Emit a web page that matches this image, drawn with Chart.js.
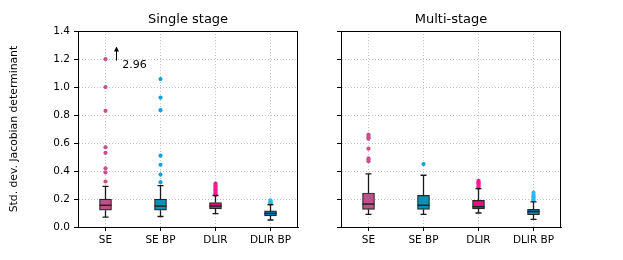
<!DOCTYPE html>
<html>
<head>
<meta charset="utf-8">
<script src="https://cdn.jsdelivr.net/npm/chart.js@4.4.0/dist/chart.umd.min.js"></script>
<style>
html, body { margin: 0; padding: 0; background: #fff; }
#wrap { position: relative; width: 623px; height: 260px; }
canvas { position: absolute; top: 0; }
</style>
</head>
<body>
<div id="wrap">
  <canvas id="single" width="310" height="260" style="left:0px"></canvas>
  <canvas id="multi" width="313" height="260" style="left:310px"></canvas>
</div>
<script>
// ---------------------------------------------------------------
// data
// ---------------------------------------------------------------
const categories = ['SE', 'SE BP', 'DLIR', 'DLIR BP'];
const yTicks = [0, 0.2, 0.4, 0.6, 0.8, 1.0, 1.2, 1.4];

const boxColors = ['#c0508a', '#0b8fbd', '#e8107f', '#0a8cc8'];
const flierColors = ['#c4508c', '#14a2d4', '#ff1a94', '#2cb8f2'];

// single stage
const singleLow  = [0.07, 0.075, 0.095, 0.05];
const singleQ1   = [0.12, 0.12, 0.13, 0.08];
const singleMed  = [0.155, 0.15, 0.15, 0.097];
const singleQ3   = [0.20, 0.20, 0.175, 0.115];
const singleHigh = [0.29, 0.295, 0.225, 0.16];
const singleFliersSE     = [0.325, 0.39, 0.42, 0.53, 0.57, 0.83, 1.0, 1.2];
const singleFliersSEBP   = [0.32, 0.375, 0.445, 0.51, 0.835, 0.925, 1.057];
const singleFliersDLIR   = [0.23, 0.24, 0.25, 0.26, 0.27, 0.28, 0.29, 0.30, 0.31];
const singleFliersDLIRBP = [0.165, 0.17, 0.175, 0.18, 0.19];
const singleClipped = 2.96;   // SE outlier above the axis

// multi-stage
const multiLow  = [0.09, 0.09, 0.10, 0.055];
const multiQ1   = [0.126, 0.126, 0.13, 0.088];
const multiMed  = [0.164, 0.155, 0.145, 0.11];
const multiQ3   = [0.243, 0.226, 0.19, 0.126];
const multiHigh = [0.38, 0.37, 0.274, 0.18];
const multiFliersSE     = [0.47, 0.48, 0.49, 0.56, 0.63, 0.64, 0.65, 0.66];
const multiFliersSEBP   = [0.45];
const multiFliersDLIR   = [0.28, 0.29, 0.30, 0.31, 0.32, 0.33];
const multiFliersDLIRBP = [0.19, 0.20, 0.21, 0.22, 0.23, 0.245];

const FONT = 'DejaVu Sans';

// whiskers, caps, medians and the frame, drawn through the chart scales
function boxExtras(low, med, high, q1, q3, clipped) {
  return {
    id: 'boxExtras',
    afterDatasetsDraw(chart) {
      const ctx = chart.ctx;
      const x = chart.scales.x, y = chart.scales.y;
      const step = x.getPixelForValue(1) - x.getPixelForValue(0);
      const half = step * 0.11, cap = step * 0.055;
      ctx.save();
      ctx.setLineDash([]);
      ctx.strokeStyle = '#1a1a1a';
      ctx.lineWidth = 1.3;
      low.forEach(function (lo, i) {
        const px = x.getPixelForValue(i);
        ctx.beginPath();
        ctx.moveTo(px, y.getPixelForValue(lo));
        ctx.lineTo(px, y.getPixelForValue(q1[i]));
        ctx.moveTo(px, y.getPixelForValue(q3[i]));
        ctx.lineTo(px, y.getPixelForValue(high[i]));
        ctx.moveTo(px - cap, y.getPixelForValue(lo));
        ctx.lineTo(px + cap, y.getPixelForValue(lo));
        ctx.moveTo(px - cap, y.getPixelForValue(high[i]));
        ctx.lineTo(px + cap, y.getPixelForValue(high[i]));
        ctx.stroke();
        ctx.beginPath();
        ctx.lineWidth = 1.5;
        ctx.strokeStyle = '#222';
        ctx.moveTo(px - half, y.getPixelForValue(med[i]));
        ctx.lineTo(px + half, y.getPixelForValue(med[i]));
        ctx.stroke();
        ctx.lineWidth = 1.3;
        ctx.strokeStyle = '#1a1a1a';
      });
      if (clipped) {
        const ax = x.getPixelForValue(0) + step * 0.2;
        const y0 = y.getPixelForValue(1.19), y1 = y.getPixelForValue(1.29);
        ctx.strokeStyle = '#000';
        ctx.fillStyle = '#000';
        ctx.lineWidth = 1;
        ctx.beginPath();
        ctx.moveTo(ax, y0);
        ctx.lineTo(ax, y1 + 4);
        ctx.stroke();
        ctx.beginPath();
        ctx.moveTo(ax, y1);
        ctx.lineTo(ax - 2.5, y1 + 5);
        ctx.lineTo(ax + 2.5, y1 + 5);
        ctx.closePath();
        ctx.fill();
        ctx.font = '11px ' + FONT;
        ctx.textBaseline = 'middle';
        ctx.fillText(clipped.toFixed(2), x.getPixelForValue(0) + step * 0.305, y.getPixelForValue(1.16));
      }
      const a = chart.chartArea;
      ctx.strokeStyle = '#000';
      ctx.lineWidth = 1;
      ctx.strokeRect(Math.round(a.left) + 0.5, Math.round(a.top) + 0.5,
                     Math.round(a.right - a.left) - 1, Math.round(a.bottom - a.top));
      ctx.restore();
    }
  };
}

function makeChart(id, title, low, q1, med, q3, high, fliers, showY, padRight, yWidth, clipped) {
  const datasets = [{
    type: 'bar',
    data: q1.map(function (v, i) { return [v, q3[i]]; }),
    backgroundColor: boxColors,
    borderColor: 'rgba(0,0,0,0.85)',
    borderWidth: 1.2,
    borderSkipped: false,
    barThickness: 12,
    order: 2
  }];
  fliers.forEach(function (list, i) {
    datasets.push({
      type: 'scatter',
      data: list.map(function (v) { return { x: categories[i], y: v }; }),
      pointRadius: 2.1,
      pointBackgroundColor: flierColors[i],
      pointBorderColor: flierColors[i],
      pointBorderWidth: 0,
      order: 1
    });
  });

  return new Chart(document.getElementById(id), {
    type: 'bar',
    data: { labels: categories, datasets: datasets },
    options: {
      responsive: false,
      animation: false,
      layout: { padding: { top: 0, right: padRight, bottom: 0, left: 0 } },
      plugins: {
        legend: { display: false },
        tooltip: { enabled: false },
        title: {
          display: true,
          fullSize: false,
          text: title,
          color: '#000',
          font: { family: FONT, size: 13, weight: 'normal' },
          padding: { top: 11.5, bottom: 4 }
        }
      },
      scales: {
        x: {
          type: 'category',
          offset: true,
          grid: {
            offset: false,
            color: '#b0b0b0',
            lineWidth: 0.8,
            tickColor: '#000',
            tickLength: 4,
            tickBorderDash: [],
            tickWidth: 1
          },
          border: { display: true, color: '#000', dash: [1, 2] },
          ticks: { color: '#000', font: { family: FONT, size: 10.5 }, padding: 3, maxRotation: 0 },
          afterFit: function (s) { s.height = 33; }
        },
        y: {
          min: 0,
          max: 1.4,
          afterBuildTicks: function (s) { s.ticks = yTicks.map(function (v) { return { value: v }; }); },
          grid: {
            color: '#b0b0b0',
            lineWidth: 0.8,
            tickColor: '#000',
            tickLength: 4,
            tickBorderDash: [],
            tickWidth: 1
          },
          border: { display: true, color: '#000', dash: [1, 2] },
          ticks: {
            display: showY,
            color: '#000',
            font: { family: FONT, size: 10.5 },
            padding: 4,
            callback: function (v) { return Number(v).toFixed(1); }
          },
          title: {
            display: showY,
            text: 'Std. dev. Jacobian determinant',
            color: '#000',
            font: { family: FONT, size: 10.8 },
            padding: { top: 8, bottom: 0 }
          },
          afterFit: function (s) { s.width = yWidth; }
        }
      }
    },
    plugins: [boxExtras(low, med, high, q1, q3, clipped)]
  });
}

makeChart('single', 'Single stage', singleLow, singleQ1, singleMed, singleQ3, singleHigh,
  [singleFliersSE, singleFliersSEBP, singleFliersDLIR, singleFliersDLIRBP], true, 12, 78, singleClipped);
makeChart('multi', 'Multi-stage', multiLow, multiQ1, multiMed, multiQ3, multiHigh,
  [multiFliersSE, multiFliersSEBP, multiFliersDLIR, multiFliersDLIRBP], false, 62, 31, null);
</script>
</body>
</html>
